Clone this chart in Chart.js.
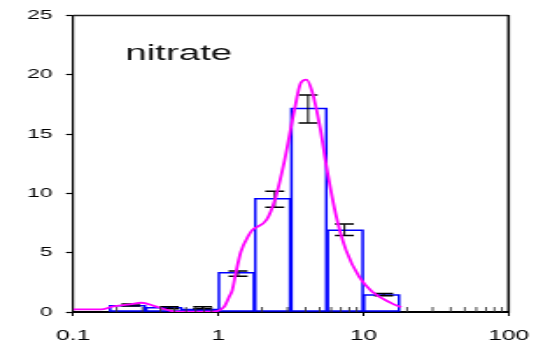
<!DOCTYPE html>
<html>
<head>
<meta charset="utf-8">
<script src="https://cdn.jsdelivr.net/npm/chart.js@4.4.1/dist/chart.umd.min.js"></script>
<style>
  html, body { margin: 0; padding: 0; background: #fff; overflow: hidden; }
</style>
</head>
<body>
<!-- the source picture is stretched ~1.75x sideways, so the canvas is too -->
<canvas id="chart" width="314" height="347" style="width:550px;height:347px;display:block"></canvas>
<script>
// histogram bins (log-spaced edges) and heights
const binEdges = [0.178, 0.316, 0.562, 1, 1.78, 3.16, 5.62, 10, 17.8];
const binValues = [0.53, 0.36, 0.22, 3.3, 9.55, 17.15, 6.9, 1.43];

// error bars
const errX = [0.25, 0.46, 0.78, 1.37, 2.45, 4.16, 7.4, 13.8];
const errLow = [0.5, 0.28, 0.28, 3.02, 8.84, 15.94, 6.46, 1.37];
const errHigh = [0.67, 0.44, 0.44, 3.46, 10.18, 18.3, 7.41, 1.57];

// smooth fitted curve
const curveX = [0.1, 0.156, 0.186, 0.248, 0.296, 0.364, 0.471, 0.55, 0.8, 0.98, 1.1, 1.19, 1.25, 1.32, 1.43, 1.62, 1.71, 2.16, 2.45, 2.86, 3.34, 3.7, 4.06, 4.43, 5.04, 5.58, 6.52, 7.6, 9.36, 11.5, 15.7, 18.2];
const curveY = [0.22, 0.22, 0.45, 0.64, 0.78, 0.5, 0.1, 0.02, 0.02, 0.08, 0.45, 1.28, 1.85, 3.25, 5.06, 6.46, 6.88, 7.8, 9.4, 12.75, 16.95, 19.3, 19.6, 18.6, 15.5, 12.2, 8.0, 5.2, 2.96, 1.7, 0.73, 0.4];

const xTickValues = [0.1, 1, 10, 100];
const minorTicks = [];
[0.1, 1, 10].forEach(d => { for (let k = 2; k <= 9; k++) minorTicks.push(d * k); });

const titleText = 'nitrate';

const histPlugin = {
  id: 'hist',
  beforeDatasetsDraw(chart) {
    const { ctx, scales: { x, y } } = chart;
    ctx.save();
    // bars
    ctx.strokeStyle = '#0000ff';
    ctx.lineWidth = 1.5;
    const yb = y.getPixelForValue(0) - 1;
    for (let i = 0; i < binValues.length; i++) {
      const x0 = x.getPixelForValue(binEdges[i]) + 0.4;
      const x1 = x.getPixelForValue(binEdges[i + 1]) - 0.4;
      const yt = y.getPixelForValue(binValues[i]);
      ctx.beginPath();
      ctx.moveTo(x0, yb);
      ctx.lineTo(x0, yt);
      ctx.lineTo(x1, yt);
      ctx.lineTo(x1, yb);
      ctx.closePath();
      ctx.stroke();
    }
    // error bars
    ctx.strokeStyle = '#000';
    for (let i = 0; i < errX.length; i++) {
      const px = x.getPixelForValue(errX[i]);
      const lo = y.getPixelForValue(errLow[i]);
      const hi = y.getPixelForValue(errHigh[i]);
      ctx.lineWidth = 1;
      ctx.beginPath();
      ctx.moveTo(px, lo);
      ctx.lineTo(px, hi);
      ctx.stroke();
      ctx.lineWidth = 1.5;
      ctx.beginPath();
      ctx.moveTo(px - 5.4, lo);
      ctx.lineTo(px + 5.4, lo);
      ctx.moveTo(px - 5.4, hi);
      ctx.lineTo(px + 5.4, hi);
      ctx.stroke();
    }
    ctx.restore();
  },
  afterDraw(chart) {
    const { ctx, chartArea: a, scales: { x } } = chart;
    ctx.save();
    // top + right frame
    ctx.strokeStyle = '#222';
    ctx.lineWidth = 1.3;
    ctx.beginPath();
    ctx.moveTo(a.left, a.top);
    ctx.lineTo(a.right, a.top);
    ctx.stroke();
    ctx.strokeStyle = '#000';
    ctx.lineWidth = 1.5;
    ctx.beginPath();
    ctx.moveTo(a.right, a.top - 0.6);
    ctx.lineTo(a.right, a.bottom + 1);
    ctx.stroke();
    // minor ticks pointing inwards
    ctx.strokeStyle = '#333';
    ctx.lineWidth = 0.9;
    ctx.beginPath();
    minorTicks.forEach(v => {
      const px = x.getPixelForValue(v);
      ctx.moveTo(px, a.bottom);
      ctx.lineTo(px, a.bottom - 5);
    });
    ctx.stroke();
    // label inside the plot
    ctx.fillStyle = '#111';
    ctx.font = '22px "Liberation Sans", Arial, sans-serif';
    ctx.textBaseline = 'alphabetic';
    ctx.fillText(titleText, 71.4, 60);
    ctx.restore();
  }
};

new Chart(document.getElementById('chart'), {
  type: 'scatter',
  data: {
    datasets: [{
      data: curveX.map((v, i) => ({ x: v, y: curveY[i] })),
      showLine: true,
      borderColor: '#ff00ff',
      borderWidth: 1.8,
      pointRadius: 0,
      cubicInterpolationMode: 'monotone'
    }]
  },
  options: {
    responsive: false,
    animation: false,
    layout: { padding: { top: 14, right: 19.1, left: 0, bottom: 0 } },
    plugins: { legend: { display: false }, tooltip: { enabled: false } },
    scales: {
      x: {
        type: 'logarithmic',
        min: 0.1,
        max: 100,
        afterBuildTicks: s => { s.ticks = xTickValues.map(v => ({ value: v, major: true })); },
        afterFit: s => { s.height = 35; },
        ticks: {
          color: '#000',
          padding: 12,
          maxRotation: 0,
          autoSkip: false,
          font: { family: '"Liberation Sans", Arial, sans-serif', size: 14 },
          callback: v => String(v)
        },
        grid: { drawOnChartArea: false, drawTicks: true, tickLength: 4, tickColor: '#000', tickWidth: 1 },
        border: { color: '#000', width: 2 }
      },
      y: {
        min: 0,
        max: 25,
        afterFit: s => { s.width = 41.7; },
        ticks: {
          stepSize: 5,
          color: '#000',
          padding: 7.7,
          font: { family: '"Liberation Sans", Arial, sans-serif', size: 13 }
        },
        grid: { drawOnChartArea: false, drawTicks: true, tickLength: 4, tickColor: '#000', tickWidth: 1.2 },
        border: { color: '#000', width: 1.2 }
      }
    }
  },
  plugins: [histPlugin]
});
</script>
</body>
</html>
